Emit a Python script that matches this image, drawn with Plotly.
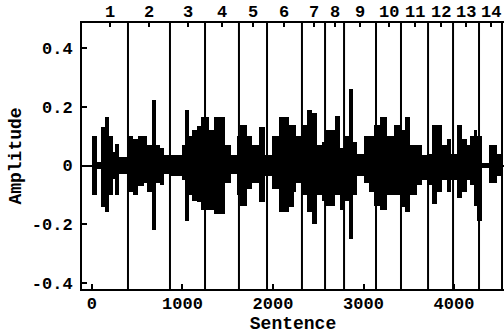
import plotly.graph_objects as go

# ---- data ----
seg_start = [0, 55, 105, 140, 190, 230, 258, 295, 390, 450, 510, 570, 607, 663, 707, 755, 800,
             865, 994, 1031, 1075, 1105, 1160, 1208, 1290, 1345, 1465, 1540, 1600, 1640, 1712,
             1768, 1841, 1907, 1989, 2062, 2173, 2232, 2250, 2320, 2375, 2431, 2486, 2541, 2578,
             2689, 2744, 2800, 2845, 2885, 2930, 3005, 3060, 3112, 3186, 3260, 3333, 3407, 3462,
             3517, 3590, 3646, 3700, 3757, 3812, 3867, 3923, 3970, 4033, 4088, 4143, 4180, 4217,
             4254, 4309, 4383, 4475]
seg_end = seg_start[1:] + [4530]
upper = [0.10, 0.012, 0.13, 0.165, 0.10, 0.045, 0.075, 0.03, 0.10, 0.09, 0.10, 0.10, 0.07, 0.225,
         0.07, 0.06, 0.035, 0.035, 0.07, 0.19, 0.10, 0.12, 0.135, 0.165, 0.12, 0.165, 0.07, 0.035,
         0.10, 0.137, 0.10, 0.07, 0.13, 0.035, 0.10, 0.165, 0.137, 0.137, 0.10, 0.137, 0.19, 0.18,
         0.07, 0.08, 0.12, 0.17, 0.06, 0.10, 0.26, 0.08, 0.04, 0.10, 0.10, 0.137, 0.165, 0.10,
         0.137, 0.12, 0.165, 0.07, 0.07, 0.035, 0.04, 0.137, 0.137, 0.07, 0.09, 0.04, 0.137, 0.09,
         0.07, 0.10, 0.12, 0.10, 0.01, 0.07, 0.04]
lower = [-0.10, -0.012, -0.14, -0.16, -0.10, -0.045, -0.10, -0.03, -0.09, -0.10, -0.07, -0.06,
         -0.09, -0.22, -0.06, -0.065, -0.03, -0.035, -0.05, -0.19, -0.10, -0.12, -0.125, -0.15,
         -0.15, -0.165, -0.06, -0.03, -0.10, -0.137, -0.08, -0.06, -0.125, -0.035, -0.08, -0.16,
         -0.14, -0.09, -0.06, -0.10, -0.16, -0.20, -0.10, -0.12, -0.137, -0.10, -0.15, -0.12,
         -0.25, -0.10, -0.035, -0.06, -0.09, -0.137, -0.15, -0.10, -0.10, -0.14, -0.16, -0.10,
         -0.068, -0.05, -0.068, -0.13, -0.09, -0.05, -0.09, -0.05, -0.11, -0.09, -0.05, -0.068,
         -0.137, -0.19, -0.01, -0.06, -0.035]
boundaries = [398, 862, 1249, 1624, 1934, 2320, 2575, 2785, 3138, 3414, 3713, 3989, 4276, 4530]
sentence_labels = [str(i) for i in range(1, 15)]
x_ticks = [0, 1000, 2000, 3000, 4000]
y_ticks = [-0.4, -0.2, 0, 0.2, 0.4]
y_ticktext = ["-0.4", "-0.2", "0", "0.2", "0.4"]

FONT = "Liberation Mono"
X_RANGE = [-110, 4552]
Y_RANGE = [-0.421, 0.486]

centers = [(s + e) / 2 for s, e in zip(seg_start, seg_end)]
widths = [e - s for s, e in zip(seg_start, seg_end)]
heights = [u - l for u, l in zip(upper, lower)]

starts = [0] + boundaries[:-1]
mids = [(a + b) / 2 for a, b in zip(starts, boundaries)]

fig = go.Figure()
fig.add_trace(go.Bar(x=centers, y=heights, base=lower, width=widths,
                     marker=dict(color="black", line=dict(width=0)),
                     showlegend=False, hoverinfo="skip"))
# invisible trace to carry the top sentence axis (tick marks only)
fig.add_trace(go.Scatter(x=mids, y=[0] * len(mids), xaxis="x2", mode="markers",
                         marker=dict(opacity=0), showlegend=False, hoverinfo="skip"))

for b in boundaries:
    fig.add_shape(type="line", xref="x", yref="paper", x0=b, x1=b, y0=0, y1=1,
                  line=dict(color="black", width=2))

tickfont = dict(family=FONT, size=17, color="black", weight="bold")
titlefont = dict(family=FONT, size=18, color="black", weight="bold")

for m, lab in zip(mids, sentence_labels):
    fig.add_annotation(x=m, xref="x", y=1, yref="paper", yanchor="middle", yshift=11,
                       text=lab, showarrow=False, font=tickfont)

fig.update_layout(
    width=504, height=334,
    margin=dict(l=82, r=0, t=23, b=45),
    paper_bgcolor="white", plot_bgcolor="white",
    bargap=0, barmode="overlay",
    xaxis=dict(range=X_RANGE, tickvals=x_ticks, ticks="inside", ticklen=5, tickwidth=1.5,
               tickcolor="black", showline=True, linecolor="black", linewidth=2,
               showgrid=False, zeroline=False, tickfont=tickfont, automargin=False,
               ticklabelstandoff=-2,
               title=dict(text="Sentence", font=titlefont, standoff=8)),
    xaxis2=dict(range=X_RANGE, overlaying="x", side="top", tickvals=mids,
                showticklabels=False, ticks="inside", ticklen=4, tickwidth=1.5,
                tickcolor="black", showline=True, linecolor="black", linewidth=2,
                showgrid=False, zeroline=False, automargin=False),
    yaxis=dict(range=Y_RANGE, tickvals=y_ticks, ticktext=y_ticktext, ticks="inside",
               ticklen=5, tickwidth=1.5, tickcolor="black", showline=True,
               linecolor="black", linewidth=2, mirror=True, showgrid=False,
               zeroline=True, zerolinecolor="black", zerolinewidth=2,
               tickfont=tickfont, automargin=False, ticklabelstandoff=4,
               title=dict(text="Amplitude", font=titlefont, standoff=5)),
)

fig.write_html("out.html")
